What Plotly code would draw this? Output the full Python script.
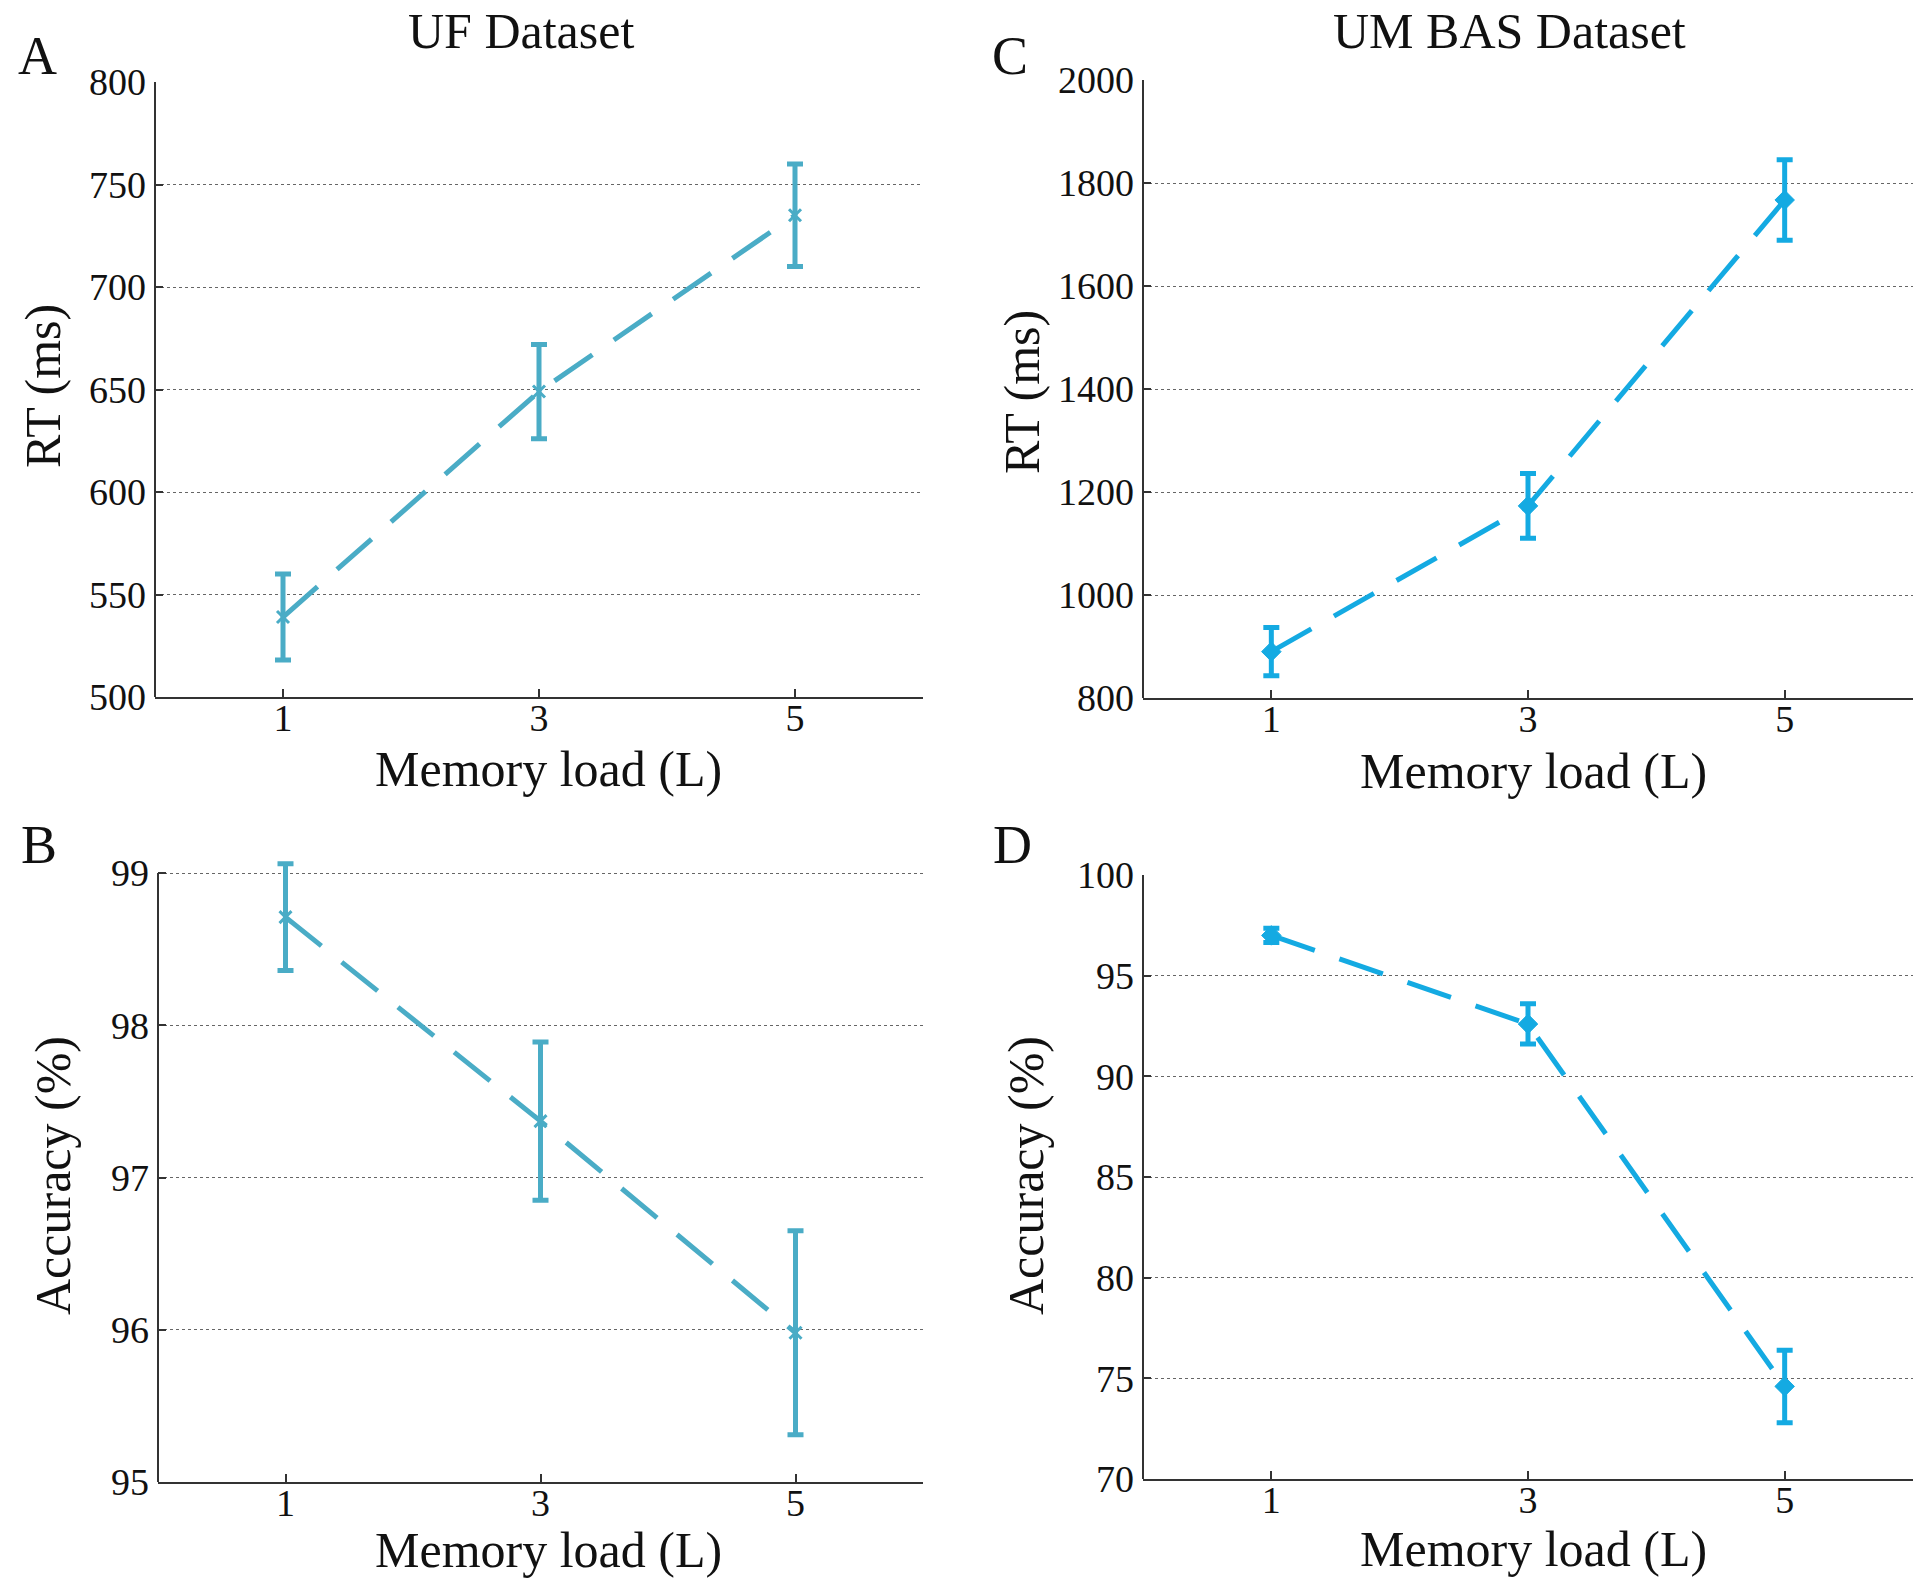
import plotly.graph_objects as go

# ---- data ----
loads = [1, 3, 5]
uf_rt = [539, 649, 735]
uf_rt_err = [21, 23, 25]
uf_acc = [98.71, 97.37, 95.98]
uf_acc_err = [0.35, 0.52, 0.67]
um_rt = [890, 1173, 1767]
um_rt_err = [47, 63, 78]
um_acc = [97.0, 92.6, 74.6]
um_acc_err = [0.35, 1.0, 1.8]

uf_color = "#4AACC6"
um_color = "#14AAE2"
FONT = "Liberation Serif, Times New Roman, serif"
W, H = 1920, 1582

fig = go.Figure()

def add_series(x, y, err, color, symbol, msize, mlw, xa, ya):
    fig.add_trace(go.Scatter(
        x=x, y=y, mode="lines+markers", xaxis=xa, yaxis=ya,
        line=dict(color=color, width=5, dash="46px,26px"),
        marker=dict(color=color, symbol=symbol, size=msize,
                    line=dict(color=color, width=mlw)),
        error_y=dict(type="data", array=err, visible=True,
                     color=color, thickness=5, width=8),
        cliponaxis=False,
        showlegend=False,
    ))

add_series(loads, uf_rt, uf_rt_err, uf_color, "x-thin", 12, 3, "x", "y")
add_series(loads, uf_acc, uf_acc_err, uf_color, "x-thin", 12, 3, "x2", "y2")
add_series(loads, um_rt, um_rt_err, um_color, "diamond", 15, 1, "x3", "y3")
add_series(loads, um_acc, um_acc_err, um_color, "diamond", 15, 1, "x4", "y4")

def px_x(p):
    return p / W

def px_y(p):
    return 1 - p / H

# panel boxes in pixels: (left, right, top, bottom)
boxes = {
    "1": (155, 923, 82, 697),
    "2": (158, 923, 873, 1482),
    "3": (1143, 1913, 80, 698),
    "4": (1143, 1913, 875, 1479),
}
yranges = {"1": [500, 800], "2": [95, 99], "3": [800, 2000], "4": [70, 100]}
ydticks = {"1": 50, "2": 1, "3": 200, "4": 5}
headroom = {"1": 0, "2": 22, "3": 0, "4": 0}  # px above top tick so caps aren't clipped

axis_common = dict(
    linecolor="#333333", linewidth=2,
    ticks="inside", ticklen=8, tickwidth=2, tickcolor="#333333",
    tickfont=dict(family=FONT, size=38, color="#111111"),
    zeroline=False, automargin=False,
)

layout = {}
shapes = []
for k, (l, r, t, b) in boxes.items():
    xname = "xaxis" if k == "1" else f"xaxis{k}"
    yname = "yaxis" if k == "1" else f"yaxis{k}"
    yref = "y" if k == "1" else f"y{k}"
    xref = "x" if k == "1" else f"x{k}"
    lo, hi = yranges[k]
    per_px = (hi - lo) / (b - t)
    extra = headroom[k]
    layout[xname] = dict(
        domain=[px_x(l), px_x(r)], range=[0, 6], tickvals=loads,
        anchor=yref, showgrid=False, showline=True,
        ticklabelstandoff=-14, **axis_common)
    layout[yname] = dict(
        domain=[px_y(b), px_y(t - extra)], range=[lo, hi + extra * per_px],
        tick0=lo, dtick=ydticks[k],
        anchor=xref, showgrid=True, gridcolor="#666666", gridwidth=1,
        griddash="dot", showline=False, ticklabelstandoff=8, **axis_common)
    # left axis spine, from bottom to top tick only
    shapes.append(dict(
        type="line", xref=f"{xref} domain", yref=yref,
        x0=0, x1=0, y0=lo, y1=hi,
        line=dict(color="#333333", width=2), layer="above"))

fig.update_layout(**layout)

annotations = []
def text(x, y, s, size, angle=0):
    annotations.append(dict(
        x=px_x(x), y=px_y(y), xref="paper", yref="paper", text=s,
        showarrow=False, textangle=angle, xanchor="center", yanchor="middle",
        font=dict(family=FONT, size=size, color="#111111")))

# titles
text(521, 31, "UF Dataset", 50)
text(1509, 31, "UM BAS Dataset", 50)
# panel letters
text(37, 56, "A", 54)
text(39, 845, "B", 54)
text(1010, 56, "C", 54)
text(1012, 845, "D", 54)
# x titles
text(548, 769, "Memory load (L)", 50)
text(548, 1550, "Memory load (L)", 50)
text(1533, 771, "Memory load (L)", 50)
text(1533, 1549, "Memory load (L)", 50)
# y titles
text(43, 386, "RT (ms)", 50, -90)
text(1022, 392, "RT (ms)", 50, -90)
text(53, 1176, "Accuracy (%)", 50, -90)
text(1026, 1176, "Accuracy (%)", 50, -90)

fig.update_layout(
    width=W, height=H, margin=dict(l=0, r=0, t=0, b=0, autoexpand=False),
    paper_bgcolor="white", plot_bgcolor="white",
    annotations=annotations, shapes=shapes,
)

post = (
    "var d=document.getElementById('{plot_id}');"
    "d.style.position='fixed';d.style.top='0px';d.style.left='0px';"
    "document.body.style.margin='0';document.body.style.overflow='hidden';"
)
fig.write_html("out.html", post_script=post, config={"displayModeBar": False})
